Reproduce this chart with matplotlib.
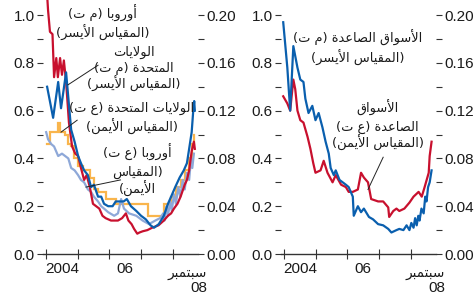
import matplotlib
matplotlib.use("Agg")
import matplotlib.pyplot as plt
from matplotlib import font_manager
from matplotlib.ticker import MultipleLocator, FixedLocator, NullFormatter, FixedFormatter

# ---------------- data ----------------
# Left panel: Europe / United States
eu_lhs_dates = [2004.00, 2004.06, 2004.12, 2004.20, 2004.25, 2004.32, 2004.37, 2004.44, 2004.50, 2004.56,
                2004.63, 2004.72, 2004.82, 2004.92, 2005.01, 2005.10, 2005.20, 2005.28, 2005.38, 2005.48,
                2005.58, 2005.68, 2005.78, 2005.88, 2006.05, 2006.27, 2006.40, 2006.52, 2006.60, 2006.70,
                2006.78, 2006.88, 2006.95, 2007.05, 2007.20, 2007.35, 2007.55, 2007.72, 2007.85, 2007.95,
                2008.04, 2008.15, 2008.25, 2008.38, 2008.45, 2008.52, 2008.60, 2008.67, 2008.70]
eu_lhs_vals = [1.15, 1.02, 0.93, 0.92, 0.74, 0.82, 0.74, 0.82, 0.75, 0.81,
               0.72, 0.55, 0.45, 0.42, 0.41, 0.36, 0.31, 0.33, 0.28, 0.21,
               0.20, 0.19, 0.16, 0.15, 0.14, 0.14, 0.15, 0.17, 0.14, 0.125,
               0.105, 0.085, 0.09, 0.095, 0.10, 0.11, 0.12, 0.14, 0.16, 0.17,
               0.19, 0.21, 0.24, 0.29, 0.31, 0.35, 0.43, 0.47, 0.44]

us_lhs_dates = [2004.03, 2004.22, 2004.38, 2004.47, 2004.63, 2004.79, 2004.90, 2005.01, 2005.10, 2005.20,
                2005.32, 2005.42, 2005.51, 2005.64, 2005.74, 2005.83, 2005.96, 2006.10, 2006.20, 2006.30,
                2006.45, 2006.55, 2006.68, 2006.85, 2007.00, 2007.15, 2007.30, 2007.41, 2007.56, 2007.72,
                2007.85, 2007.95, 2008.08, 2008.22, 2008.35, 2008.45, 2008.52, 2008.60, 2008.65, 2008.68,
                2008.70]
us_lhs_vals = [0.70, 0.57, 0.72, 0.61, 0.76, 0.52, 0.47, 0.41, 0.38, 0.35,
               0.33, 0.28, 0.29, 0.24, 0.24, 0.21, 0.20, 0.20, 0.22, 0.22,
               0.22, 0.23, 0.20, 0.18, 0.16, 0.145, 0.12, 0.11, 0.125, 0.16,
               0.21, 0.24, 0.28, 0.32, 0.35, 0.38, 0.44, 0.51, 0.60, 0.64,
               0.60]

us_rhs_dates = [2004.03, 2004.12, 2004.36, 2004.45, 2004.60, 2004.68, 2004.80, 2004.88, 2005.02, 2005.15,
                2005.38, 2005.50, 2005.65, 2005.90, 2006.22, 2007.22, 2007.72, 2007.95, 2008.10, 2008.25,
                2008.38, 2008.50, 2008.60, 2008.67]
us_rhs_vals = [0.092, 0.102, 0.110, 0.102, 0.100, 0.092, 0.090, 0.080, 0.074, 0.070,
               0.064, 0.054, 0.052, 0.046, 0.042, 0.032, 0.042, 0.048, 0.056, 0.062,
               0.070, 0.080, 0.092, 0.100]

eu_rhs_dates = [2004.00, 2004.06, 2004.16, 2004.25, 2004.38, 2004.50, 2004.60, 2004.70, 2004.79, 2004.90,
                2005.01, 2005.10, 2005.20, 2005.32, 2005.42, 2005.51, 2005.64, 2005.74, 2005.83, 2005.96,
                2006.15, 2006.27, 2006.37, 2006.46, 2006.62, 2006.85, 2007.05, 2007.25, 2007.45, 2007.60,
                2007.70, 2007.74, 2007.80, 2007.85, 2007.92, 2007.97, 2008.04, 2008.10, 2008.18, 2008.24,
                2008.32, 2008.38, 2008.45, 2008.52, 2008.58, 2008.62, 2008.67]
eu_rhs_vals = [0.102, 0.096, 0.092, 0.090, 0.082, 0.084, 0.082, 0.080, 0.072, 0.070,
               0.066, 0.062, 0.060, 0.054, 0.052, 0.048, 0.044, 0.040, 0.038, 0.035,
               0.032, 0.034, 0.046, 0.038, 0.034, 0.032, 0.028, 0.025, 0.028, 0.030,
               0.034, 0.028, 0.040, 0.032, 0.044, 0.036, 0.050, 0.042, 0.056, 0.048,
               0.062, 0.054, 0.068, 0.062, 0.080, 0.072, 0.084]

# Right panel: emerging markets
em_lhs_dates = [2003.97, 2004.10, 2004.19, 2004.29, 2004.42, 2004.51, 2004.61, 2004.67, 2004.77, 2004.89,
                2004.99, 2005.09, 2005.21, 2005.31, 2005.41, 2005.47, 2005.57, 2005.63, 2005.75, 2005.85,
                2005.95, 2006.04, 2006.17, 2006.20, 2006.33, 2006.43, 2006.52, 2006.68, 2006.81, 2006.97,
                2007.13, 2007.29, 2007.39, 2007.55, 2007.64, 2007.77, 2007.87, 2007.96, 2008.02, 2008.09,
                2008.14, 2008.19, 2008.24, 2008.28, 2008.34, 2008.41, 2008.46, 2008.50, 2008.55, 2008.60,
                2008.66]
em_lhs_vals = [0.97, 0.78, 0.60, 0.87, 0.78, 0.73, 0.72, 0.65, 0.59, 0.62,
               0.56, 0.59, 0.53, 0.47, 0.42, 0.36, 0.33, 0.35, 0.31, 0.30,
               0.29, 0.28, 0.24, 0.16, 0.20, 0.175, 0.19, 0.155, 0.145, 0.125,
               0.12, 0.105, 0.09, 0.10, 0.105, 0.10, 0.12, 0.10, 0.13, 0.11,
               0.15, 0.12, 0.16, 0.14, 0.19, 0.17, 0.24, 0.22, 0.28, 0.30,
               0.35]

em_rhs_dates = [2003.97, 2004.10, 2004.19, 2004.29, 2004.35, 2004.42, 2004.51, 2004.61, 2004.74, 2004.83,
                2004.92, 2004.99, 2005.15, 2005.25, 2005.37, 2005.53, 2005.63, 2005.80, 2005.95, 2006.04,
                2006.17, 2006.33, 2006.43, 2006.52, 2006.65, 2006.75, 2006.97, 2007.13, 2007.29, 2007.32,
                2007.45, 2007.55, 2007.64, 2007.80, 2007.96, 2008.09, 2008.25, 2008.35, 2008.44, 2008.57,
                2008.60, 2008.66]
em_rhs_vals = [0.132, 0.126, 0.120, 0.146, 0.138, 0.120, 0.112, 0.110, 0.098, 0.088,
               0.076, 0.068, 0.070, 0.078, 0.068, 0.060, 0.066, 0.058, 0.056, 0.052,
               0.052, 0.054, 0.068, 0.064, 0.060, 0.046, 0.044, 0.044, 0.039, 0.031,
               0.036, 0.038, 0.036, 0.038, 0.043, 0.048, 0.052, 0.048, 0.056, 0.068,
               0.082, 0.094]

lhs_ticks = [0.0, 0.2, 0.4, 0.6, 0.8, 1.0]
lhs_labels = ["0.0", "0.2", "0.4", "0.6", "0.8", "1.0"]
rhs_ticks = [0.0, 0.04, 0.08, 0.12, 0.16, 0.20]
rhs_labels = ["0.00", "0.04", "0.08", "0.12", "0.16", "0.20"]
year_ticks = [2004, 2005, 2006, 2007, 2008]
year_label_pos = [2004.5, 2006.5]
year_labels = ["2004", "06"]
end_month = "سبتمبر"
end_year = "08"

lbl_eu_lhs = "أوروبا (م ت)\n(المقياس الأيسر)"
lbl_us_lhs = "الولايات\nالمتحدة (م ت)\n(المقياس الأيسر)"
lbl_us_rhs = "الولايات المتحدة (ع ت)\n(المقياس الأيمن)"
lbl_eu_rhs = "أوروبا (ع ت)\n(المقياس\nالأيمن)"
lbl_em_lhs = "الأسواق الصاعدة (م ت)\n(المقياس الأيسر)"
lbl_em_rhs = "الأسواق\nالصاعدة (ع ت)\n(المقياس الأيمن)"

# ---------------- Arabic shaping (matplotlib has no bidi/shaping) ----------------
FORMS = {
    '\u0627': ('\uFE8D', '\uFE8E', None, None),
    '\u0623': ('\uFE83', '\uFE84', None, None),
    '\u0628': ('\uFE8F', '\uFE90', '\uFE91', '\uFE92'),
    '\u0629': ('\uFE93', '\uFE94', None, None),
    '\u062A': ('\uFE95', '\uFE96', '\uFE97', '\uFE98'),
    '\u062D': ('\uFEA1', '\uFEA2', '\uFEA3', '\uFEA4'),
    '\u062F': ('\uFEA9', '\uFEAA', None, None),
    '\u0631': ('\uFEAD', '\uFEAE', None, None),
    '\u0633': ('\uFEB1', '\uFEB2', '\uFEB3', '\uFEB4'),
    '\u0635': ('\uFEB9', '\uFEBA', '\uFEBB', '\uFEBC'),
    '\u0639': ('\uFEC9', '\uFECA', '\uFECB', '\uFECC'),
    '\u0642': ('\uFED5', '\uFED6', '\uFED7', '\uFED8'),
    '\u0644': ('\uFEDD', '\uFEDE', '\uFEDF', '\uFEE0'),
    '\u0645': ('\uFEE1', '\uFEE2', '\uFEE3', '\uFEE4'),
    '\u0646': ('\uFEE5', '\uFEE6', '\uFEE7', '\uFEE8'),
    '\u0648': ('\uFEED', '\uFEEE', None, None),
    '\u064A': ('\uFEF1', '\uFEF2', '\uFEF3', '\uFEF4'),
}
LAM_ALEF = {'\u0627': ('\uFEFB', '\uFEFC'), '\u0623': ('\uFEF7', '\uFEF8')}


def _dual(c):
    return c in FORMS and FORMS[c][2] is not None


def shape_line(s):
    out = []
    n = len(s)
    i = 0
    while i < n:
        c = s[i]
        if c not in FORMS:
            out.append(c)
            i += 1
            continue
        prev = s[i - 1] if i > 0 else None
        join_prev = prev is not None and _dual(prev)
        if c == '\u0644' and i + 1 < n and s[i + 1] in LAM_ALEF:
            iso, fin = LAM_ALEF[s[i + 1]]
            out.append(fin if join_prev else iso)
            i += 2
            continue
        nxt = s[i + 1] if i + 1 < n else None
        join_next = _dual(c) and nxt is not None and nxt in FORMS
        iso, fin, ini, med = FORMS[c]
        if join_prev and join_next:
            out.append(med)
        elif join_prev:
            out.append(fin)
        elif join_next:
            out.append(ini)
        else:
            out.append(iso)
        i += 1
    vis = ''.join(reversed(out))
    return vis.translate(str.maketrans('()', ')('))


# ---------------- fonts ----------------
def has_font(name):
    try:
        font_manager.findfont(name, fallback_to_default=False)
        return True
    except Exception:
        return False


NUM_FONT = "Liberation Sans Narrow" if has_font("Liberation Sans Narrow") else "Liberation Sans"
NUM_SIZE = 12 if NUM_FONT == "Liberation Sans Narrow" else 11
AR_FONT = ["DejaVu Sans"]
AR_SIZE = 9.4
TXT = "#1a1a1a"

RED = "#c8102e"
BLUE = "#0a5fae"
LBLUE = "#8ea8d8"
ORANGE = "#f9b54c"

W, H = 476, 301
fig = plt.figure(figsize=(W / 100, H / 100), dpi=100)
fig.patch.set_facecolor("white")

XLIM = (2003.9, 2008.8)
YTOP = 1.063


def setup(left_px):
    ax = fig.add_axes([left_px / W, (H - 254) / H, 155 / W, 254 / H])
    ax2 = ax.twinx()
    ax.set_zorder(ax2.get_zorder() + 1)
    ax.patch.set_visible(False)
    for a in (ax, ax2):
        for s in ("top", "left", "right", "bottom"):
            a.spines[s].set_visible(False)
        a.set_xlim(*XLIM)
    ax.spines["bottom"].set_visible(True)
    ax.spines["bottom"].set_color("#333333")
    ax.spines["bottom"].set_linewidth(1.0)
    ax.set_ylim(0, YTOP)
    ax2.set_ylim(0, YTOP / 5)
    ax.yaxis.set_major_locator(FixedLocator(lhs_ticks))
    ax.yaxis.set_major_formatter(FixedFormatter(lhs_labels))
    ax.yaxis.set_minor_locator(MultipleLocator(0.1))
    ax2.yaxis.set_major_locator(FixedLocator(rhs_ticks))
    ax2.yaxis.set_major_formatter(FixedFormatter(rhs_labels))
    ax2.yaxis.set_minor_locator(MultipleLocator(0.02))
    ax.tick_params(axis="y", which="both", direction="out", length=4, width=0.8,
                   color="#333333", pad=2, labelsize=NUM_SIZE, labelcolor=TXT)
    ax2.tick_params(axis="y", which="both", direction="out", length=4, width=0.8,
                    color="#333333", pad=2, labelsize=NUM_SIZE, labelcolor=TXT)
    ax.xaxis.set_major_locator(FixedLocator(year_ticks))
    ax.xaxis.set_major_formatter(NullFormatter())
    ax.xaxis.set_minor_locator(FixedLocator(year_label_pos))
    ax.xaxis.set_minor_formatter(FixedFormatter(year_labels))
    ax.tick_params(axis="x", which="major", direction="inout", length=7, width=0.8, color="#333333")
    ax.tick_params(axis="x", which="minor", length=0, pad=6, labelsize=NUM_SIZE, labelcolor=TXT)
    ax2.tick_params(axis="x", which="both", length=0, labelbottom=False)
    for lab in ax.get_yticklabels() + ax2.get_yticklabels() + ax.get_xticklabels(minor=True):
        lab.set_fontfamily(NUM_FONT)
    # end label: September 08
    ax.text(1.06, -0.075, shape_line(end_month), transform=ax.transAxes, ha="right", va="center",
            family=AR_FONT, fontsize=9.8, color=TXT, clip_on=False)
    ax.text(1.06, -0.135, end_year, transform=ax.transAxes, ha="right", va="center",
            family=NUM_FONT, fontsize=NUM_SIZE, color=TXT, clip_on=False)
    return ax, ax2


def label(ax, x, ys, text):
    """Place a multi-line Arabic label, one line per given vertical position."""
    for line, y in zip(text.split("\n"), ys):
        ax.text(x, y, shape_line(line), family=AR_FONT, fontsize=AR_SIZE, color=TXT,
                ha="center", va="center")


LW = 1.6

# ---- left panel ----
axL, axL2 = setup(43)
axL2.plot(us_rhs_dates, us_rhs_vals, color=ORANGE, lw=LW, drawstyle="steps-post", solid_joinstyle="miter")
axL2.plot(eu_rhs_dates, eu_rhs_vals, color=LBLUE, lw=LW)
axL.plot(eu_lhs_dates, eu_lhs_vals, color=RED, lw=LW)
axL.plot(us_lhs_dates, us_lhs_vals, color=BLUE, lw=LW)

label(axL, 2005.78, [1.005, 0.926], lbl_eu_lhs)
label(axL, 2006.78, [0.845, 0.778, 0.713], lbl_us_lhs)
label(axL, 2006.70, [0.611, 0.531], lbl_us_rhs)
label(axL, 2006.88, [0.423, 0.343, 0.272], lbl_eu_rhs)
axL.plot([2004.69, 2005.64], [0.708, 0.79], color="#222222", lw=0.7)
axL.plot([2004.47, 2004.98], [0.51, 0.56], color="#222222", lw=0.7)
axL.plot([2005.26, 2006.35], [0.28, 0.31], color="#222222", lw=0.7)

# ---- right panel ----
axR, axR2 = setup(281)
axR2.plot(em_rhs_dates, em_rhs_vals, color=RED, lw=LW)
axR.plot(em_lhs_dates, em_lhs_vals, color=BLUE, lw=LW)
label(axR, 2006.33, [0.906, 0.822], lbl_em_lhs)
label(axR, 2006.96, [0.611, 0.531, 0.464], lbl_em_rhs)
axR.plot([2007.13, 2006.65], [0.405, 0.27], color="#222222", lw=0.7)

fig.savefig("out.png", dpi=100, facecolor="white")
